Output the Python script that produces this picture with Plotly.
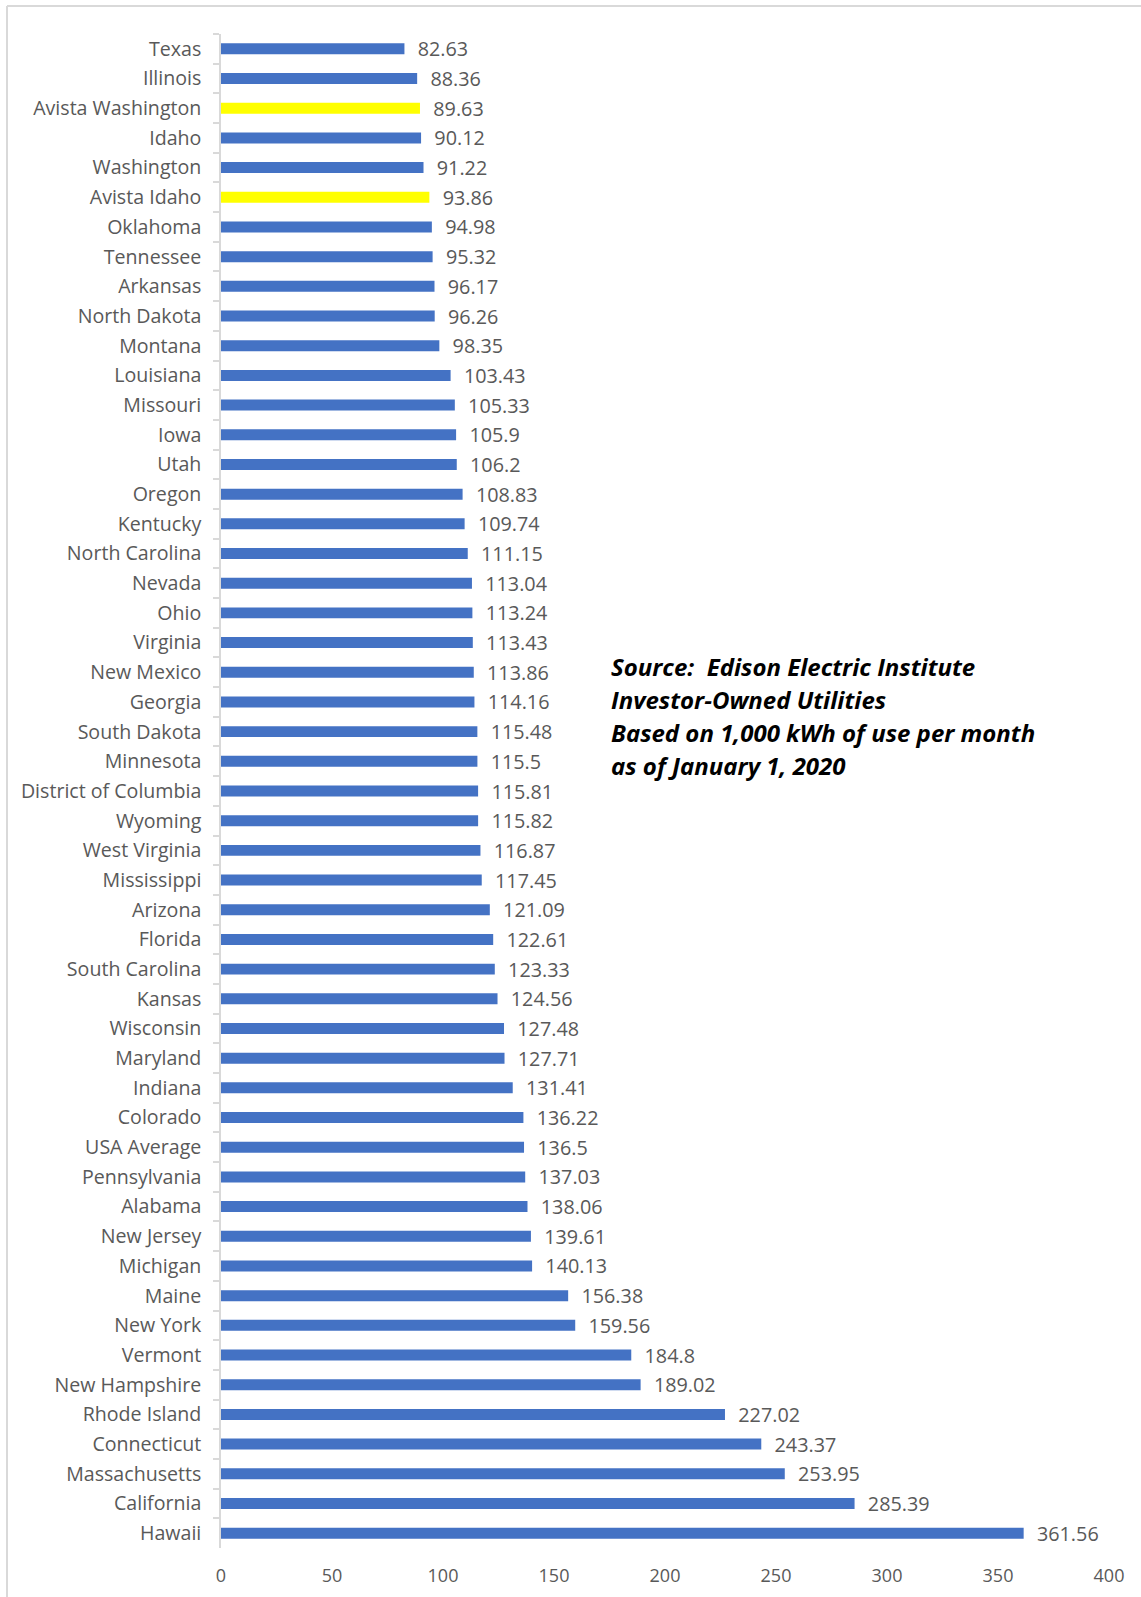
import plotly.graph_objects as go

states = ["Texas", "Illinois", "Avista Washington", "Idaho", "Washington", "Avista Idaho",
          "Oklahoma", "Tennessee", "Arkansas", "North Dakota", "Montana", "Louisiana",
          "Missouri", "Iowa", "Utah", "Oregon", "Kentucky", "North Carolina", "Nevada",
          "Ohio", "Virginia", "New Mexico", "Georgia", "South Dakota", "Minnesota",
          "District of Columbia", "Wyoming", "West Virginia", "Mississippi", "Arizona",
          "Florida", "South Carolina", "Kansas", "Wisconsin", "Maryland", "Indiana",
          "Colorado", "USA Average", "Pennsylvania", "Alabama", "New Jersey", "Michigan",
          "Maine", "New York", "Vermont", "New Hampshire", "Rhode Island", "Connecticut",
          "Massachusetts", "California", "Hawaii"]
bills = [82.63, 88.36, 89.63, 90.12, 91.22, 93.86, 94.98, 95.32, 96.17, 96.26, 98.35,
         103.43, 105.33, 105.9, 106.2, 108.83, 109.74, 111.15, 113.04, 113.24, 113.43,
         113.86, 114.16, 115.48, 115.5, 115.81, 115.82, 116.87, 117.45, 121.09, 122.61,
         123.33, 124.56, 127.48, 127.71, 131.41, 136.22, 136.5, 137.03, 138.06, 139.61,
         140.13, 156.38, 159.56, 184.8, 189.02, 227.02, 243.37, 253.95, 285.39, 361.56]
highlight = ["Avista Washington", "Avista Idaho"]
x_ticks = [0, 50, 100, 150, 200, 250, 300, 350, 400]
source_lines = ["Source:  Edison Electric Institute",
                "Investor-Owned Utilities",
                "Based on 1,000 kWh of use per month",
                "as of January 1, 2020"]

BLUE = "#4472C4"
YELLOW = "#FFFF00"
GRAY = "#595959"
LINE = "#D9D9D9"

colors = [YELLOW if s in highlight else BLUE for s in states]

fig = go.Figure(go.Bar(
    x=bills, y=states, orientation="h",
    marker=dict(color=colors, line=dict(width=0)),
    width=0.37,
    text=["  " + str(v) for v in bills],
    textposition="outside",
    constraintext="none",
    cliponaxis=False,
    textfont=dict(family="Open Sans", size=19.8, color=GRAY),
))

fig.update_layout(
    width=1141, height=1597,
    margin=dict(l=221, r=32, t=34, b=49, autoexpand=False),
    paper_bgcolor="white", plot_bgcolor="white",
    showlegend=False,
    font=dict(family="Open Sans", size=18, color=GRAY),
    xaxis=dict(range=[0, 400], tickvals=x_ticks, showgrid=False, zeroline=False,
               showline=False, ticks="", ticklabelstandoff=15, automargin=False,
               tickfont=dict(family="Open Sans", size=18, color=GRAY)),
    yaxis=dict(autorange="reversed", showgrid=False, zeroline=False,
               showline=True, linecolor=LINE, linewidth=1.5, automargin=False,
               ticks="outside", tickson="boundaries", ticklen=6, tickcolor=LINE,
               tickwidth=1.5, ticklabelstandoff=14,
               tickfont=dict(family="Open Sans", size=19.6, color=GRAY)),
)

# chart frame (top and left edges visible)
fig.add_shape(type="line", xref="paper", yref="paper", x0=-0.241, x1=1.1, y0=1.0185, y1=1.0185,
              line=dict(color=LINE, width=2))
fig.add_shape(type="line", xref="paper", yref="paper", x0=-0.241, x1=-0.241, y0=1.0185, y1=-0.04,
              line=dict(color=LINE, width=2))

y_top = 0.582
for i, line in enumerate(source_lines):
    fig.add_annotation(text="<b><i>" + line + "</i></b>", xref="paper", yref="paper",
                       x=0.437, y=y_top - i * 0.0218, xanchor="left", yanchor="middle",
                       showarrow=False, align="left",
                       font=dict(family="Open Sans", size=24, color="black"))

fig.write_html("out.html")
